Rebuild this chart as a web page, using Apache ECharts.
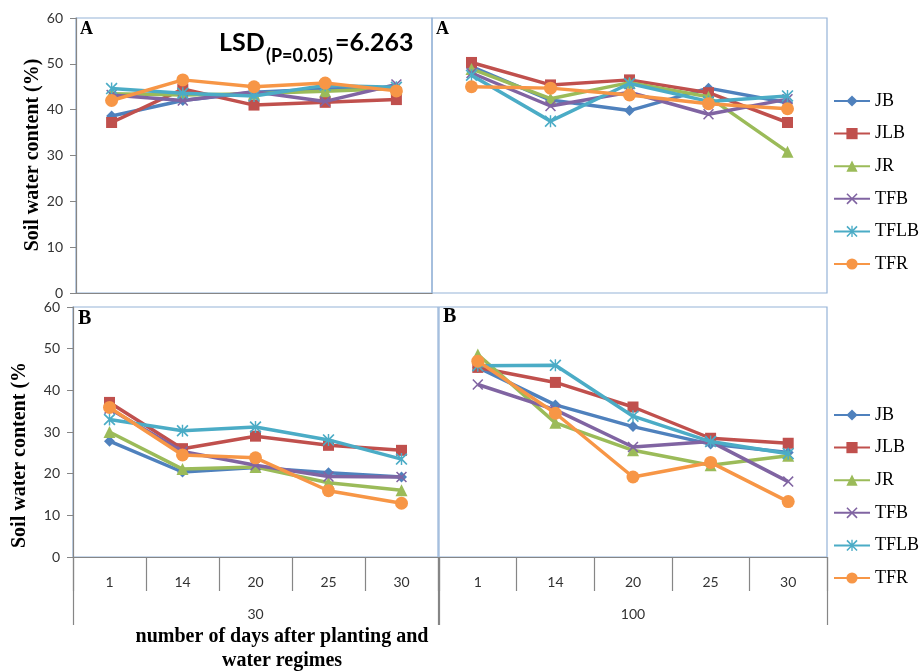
<!DOCTYPE html>
<html>
<head>
<meta charset="utf-8">
<script src="https://cdn.jsdelivr.net/npm/echarts@6/dist/echarts.min.js"></script>
<style>
html,body{margin:0;padding:0;background:#fff;}
#chart{width:921px;height:671px;}
</style>
</head>
<body>
<div id="chart"></div>
<script>
// ---- data ----
const days = ['1', '14', '20', '25', '30'];
const regimes = ['30', '100'];
const seriesNames = ['JB', 'JLB', 'JR', 'TFB', 'TFLB', 'TFR'];
const yTicks = [0, 10, 20, 30, 40, 50, 60];
const lsdText = ['LSD', '(P=0.05)', '=6.263'];

// Panel A (top), regime 30 and 100; rows follow seriesNames order
const panelA30 = [
  [38.6, 42.0, 43.8, 44.5, 44.8],
  [37.2, 44.5, 41.0, 41.6, 42.2],
  [43.5, 43.2, 43.5, 44.0, 44.6],
  [43.2, 42.0, 43.9, 41.8, 45.5],
  [44.6, 43.6, 43.0, 45.3, 44.9],
  [42.0, 46.5, 45.0, 45.8, 44.1]
];
const panelA100 = [
  [49.4, 42.1, 39.8, 44.7, 41.5],
  [50.3, 45.4, 46.5, 43.7, 37.2],
  [48.9, 42.4, 45.9, 42.8, 30.8],
  [48.0, 40.8, 43.8, 39.0, 42.3],
  [47.5, 37.5, 45.7, 41.8, 43.0],
  [45.0, 44.7, 43.2, 41.3, 40.2]
];
// Panel B (bottom)
const panelB30 = [
  [27.8, 20.4, 21.5, 20.2, 19.2],
  [37.1, 26.0, 29.0, 26.8, 25.6],
  [30.0, 21.1, 21.6, 17.8, 16.0],
  [35.6, 25.3, 22.0, 19.3, 19.2],
  [33.0, 30.3, 31.2, 28.1, 23.5],
  [35.9, 24.5, 23.8, 15.9, 12.9]
];
const panelB100 = [
  [45.5, 36.5, 31.3, 27.1, 25.1],
  [45.5, 41.9, 36.0, 28.5, 27.3],
  [48.6, 32.2, 25.6, 22.0, 24.3],
  [41.4, 35.3, 26.4, 27.7, 18.1],
  [45.9, 46.0, 33.8, 27.7, 24.8],
  [47.0, 34.5, 19.2, 22.7, 13.3]
];

// ---- styles ----
const colors = ['#4F81BD', '#C0504D', '#9BBB59', '#8064A2', '#4BACC6', '#F79646'];
const xPath = 'path://M0,1 L1,0 L5,4 L9,0 L10,1 L6,5 L10,9 L9,10 L5,6 L1,10 L0,9 L4,5 Z';
const starPath = 'path://M0,1 L1,0 L5,4 L9,0 L10,1 L6,5 L10,9 L9,10 L5,6 L1,10 L0,9 L4,5 Z M4.4,0 L5.6,0 L5.6,10 L4.4,10 Z';
const symbols = ['diamond', 'rect', 'triangle', xPath, starPath, 'circle'];
const symSizes = [11, 11, 12, 11, 12, 13];
const axisGray = '#868686';
const borderBlue = '#95B3D7';
const serif = '"Liberation Serif", "Times New Roman", serif';
const sans = 'Lato, "Open Sans", sans-serif';

const grids = [
  {left: 76, top: 18, width: 356, height: 275},
  {left: 432, top: 18, width: 395, height: 275},
  {left: 73, top: 307, width: 365, height: 250},
  {left: 439, top: 307, width: 388, height: 250}
].map(g => Object.assign({show: true, borderColor: borderBlue, borderWidth: 1.2, backgroundColor: 'transparent'}, g));

const xAxes = [];
const yAxes = [];
for (let i = 0; i < 4; i++) {
  const bottom = i >= 2;
  const showLine = i !== 1;
  xAxes.push({
    type: 'category', gridIndex: i, data: days, boundaryGap: true, position: 'bottom',
    axisLine: {show: showLine, lineStyle: {color: axisGray, width: 1.2}},
    axisTick: {show: bottom, length: 34, interval: 0, lineStyle: {color: axisGray, width: 1.2}},
    axisLabel: {show: bottom, margin: 18, fontFamily: sans, fontSize: 14, color: '#333'},
    splitLine: {show: false}
  });
  yAxes.push({
    type: 'value', gridIndex: i, min: 0, max: 60, interval: 10,
    axisLine: {show: i % 2 === 0, lineStyle: {color: axisGray, width: 1.2}},
    axisTick: {show: i % 2 === 0, length: 6, lineStyle: {color: axisGray}},
    axisLabel: {show: i % 2 === 0, margin: 13, fontFamily: sans, fontSize: 14, color: '#333',
      formatter: v => yTicks.includes(v) ? String(v) : ''},
    splitLine: {show: false}
  });
}
// group level axis (water regime) for bottom panels
[2, 3].forEach((g, k) => {
  xAxes.push({
    type: 'category', gridIndex: g, data: [regimes[k]], boundaryGap: true, position: 'bottom', offset: 0,
    axisLine: {show: false},
    axisTick: {show: true, length: 68, interval: 0, lineStyle: {color: axisGray, width: 1.2}},
    axisLabel: {show: true, margin: 50, fontFamily: sans, fontSize: 14, color: '#333'},
    splitLine: {show: false}
  });
});

const panels = [panelA30, panelA100, panelB30, panelB100];
const series = [];
panels.forEach((panel, p) => {
  panel.forEach((vals, s) => {
    series.push({
      name: seriesNames[s], type: 'line', xAxisIndex: p, yAxisIndex: p,
      data: vals, symbol: symbols[s], symbolSize: symSizes[s], showSymbol: true,
      lineStyle: {color: colors[s], width: 3.5},
      itemStyle: {color: colors[s]},
      z: 2 + s, animation: false
    });
  });
});

const legendBase = {
  orient: 'vertical', left: 828, itemWidth: 36, itemHeight: 14, itemGap: 14.6,
  data: seriesNames, selectedMode: false,
  textStyle: {fontFamily: serif, fontSize: 18, color: '#000', padding: [0, 0, 0, 0]}
};

const panelLetter = (txt, x, y, size) => ({
  type: 'text', left: x, top: y,
  style: {text: txt, font: 'bold ' + size + 'px ' + serif, fill: '#000'}
});

const option = {
  backgroundColor: '#fff',
  animation: false,
  grid: grids,
  xAxis: xAxes,
  yAxis: yAxes,
  legend: [
    Object.assign({top: 87}, legendBase),
    Object.assign({top: 401}, legendBase)
  ],
  series: series,
  graphic: [
    panelLetter('A', 80, 20, 18),
    panelLetter('A', 436, 20, 18),
    panelLetter('B', 78, 309, 20),
    panelLetter('B', 443, 307, 20),
    {type: 'text', left: 219, top: 30, style: {text: lsdText[0], font: 'bold 25px ' + sans, fill: '#000'}},
    {type: 'text', left: 266, top: 47, style: {text: lsdText[1], font: 'bold 18px ' + sans, fill: '#000'}},
    {type: 'text', left: 335, top: 30, style: {text: lsdText[2], font: 'bold 25px ' + sans, fill: '#000'}},
    {type: 'text', x: 33, y: 155, rotation: Math.PI / 2,
      style: {text: 'Soil water content (%)', font: 'bold 20px ' + serif, fill: '#000', textAlign: 'center', textVerticalAlign: 'middle'}},
    {type: 'text', x: 20, y: 455, rotation: Math.PI / 2,
      style: {text: 'Soil water content (%', font: 'bold 20px ' + serif, fill: '#000', textAlign: 'center', textVerticalAlign: 'middle'}},
    {type: 'text', x: 282, y: 637,
      style: {text: 'number of days after planting and', font: 'bold 20px ' + serif, fill: '#000', textAlign: 'center', textVerticalAlign: 'middle'}},
    {type: 'text', x: 282, y: 661,
      style: {text: 'water regimes', font: 'bold 20px ' + serif, fill: '#000', textAlign: 'center', textVerticalAlign: 'middle'}}
  ]
};

const chart = echarts.init(document.getElementById('chart'), null, {renderer: 'canvas'});
chart.setOption(option);
</script>
</body>
</html>
